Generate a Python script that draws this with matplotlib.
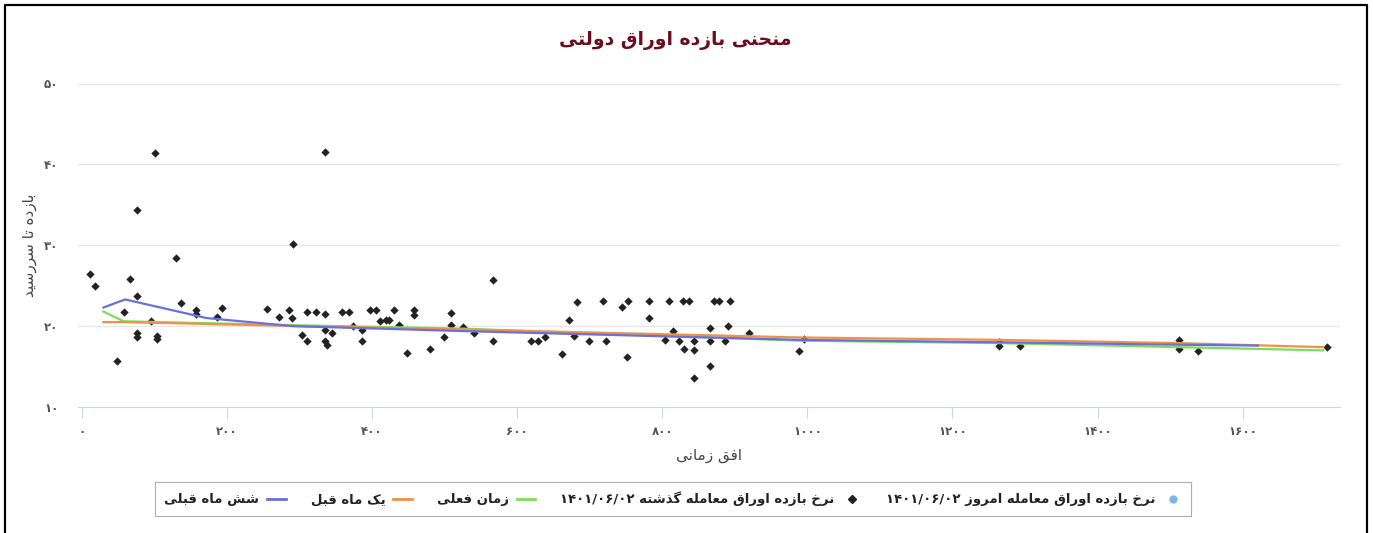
import re
import matplotlib
matplotlib.use("Agg")
import matplotlib.pyplot as plt
from matplotlib.lines import Line2D

# ---- simple Persian shaping (matplotlib has no RTL / joining support) ----
FORMS = {
    'ا': ('\uFE8D', '\uFE8E'), 'د': ('\uFEA9', '\uFEAA'), 'ذ': ('\uFEAB', '\uFEAC'),
    'ر': ('\uFEAD', '\uFEAE'), 'ز': ('\uFEAF', '\uFEB0'), 'و': ('\uFEED', '\uFEEE'),
    'ب': ('\uFE8F', '\uFE90', '\uFE91', '\uFE92'), 'ت': ('\uFE95', '\uFE96', '\uFE97', '\uFE98'),
    'ح': ('\uFEA1', '\uFEA2', '\uFEA3', '\uFEA4'), 'خ': ('\uFEA5', '\uFEA6', '\uFEA7', '\uFEA8'),
    'س': ('\uFEB1', '\uFEB2', '\uFEB3', '\uFEB4'), 'ش': ('\uFEB5', '\uFEB6', '\uFEB7', '\uFEB8'),
    'ع': ('\uFEC9', '\uFECA', '\uFECB', '\uFECC'), 'ف': ('\uFED1', '\uFED2', '\uFED3', '\uFED4'),
    'ق': ('\uFED5', '\uFED6', '\uFED7', '\uFED8'), 'ل': ('\uFEDD', '\uFEDE', '\uFEDF', '\uFEE0'),
    'م': ('\uFEE1', '\uFEE2', '\uFEE3', '\uFEE4'), 'ن': ('\uFEE5', '\uFEE6', '\uFEE7', '\uFEE8'),
    'ه': ('\uFEE9', '\uFEEA', '\uFEEB', '\uFEEC'), 'ی': ('\uFBFC', '\uFBFD', '\uFBFE', '\uFBFF'),
    'ک': ('\uFB8E', '\uFB8F', '\uFB90', '\uFB91'), 'گ': ('\uFB92', '\uFB93', '\uFB94', '\uFB95'),
}


def fa(text):
    out = []
    for i, c in enumerate(text):
        if c not in FORMS:
            out.append(c)
            continue
        prev = text[i - 1] if i > 0 else ''
        nxt = text[i + 1] if i + 1 < len(text) else ''
        joins_prev = prev in FORMS and len(FORMS[prev]) == 4
        joins_next = len(FORMS[c]) == 4 and nxt in FORMS
        f = FORMS[c]
        if joins_prev and joins_next:
            out.append(f[3])
        elif joins_prev:
            out.append(f[1])
        elif joins_next:
            out.append(f[2])
        else:
            out.append(f[0])
    s = ''.join(out)[::-1]
    return re.sub(r'[۰-۹0-9/]+', lambda m: m.group(0)[::-1], s)


def fanum(n):
    return str(n).translate(str.maketrans('0123456789', '۰۱۲۳۴۵۶۷۸۹'))


# ---- data ----
past_x = [11, 18, 49, 58, 67, 76, 76, 76, 76, 96, 101, 104, 104, 130, 137, 158, 158,
          186, 193, 255, 272, 286, 290, 291, 304, 311, 311, 323, 336, 336, 336, 336,
          338, 345, 359, 368, 374, 386, 386, 397, 405, 411, 419, 423, 430, 437, 448,
          458, 458, 480, 499, 509, 509, 526, 541, 567, 567, 619, 629, 638, 662, 672,
          679, 682, 699, 719, 722, 745, 751, 753, 782, 782, 804, 809, 815, 823, 829,
          830, 837, 844, 844, 844, 866, 866, 866, 871, 878, 886, 891, 893, 920, 988,
          996, 1264, 1264, 1293, 1512, 1512, 1539, 1716]
past_y = [26.5, 25.0, 15.7, 21.8, 25.8, 34.3, 23.7, 19.2, 18.6, 20.6, 41.4, 18.8, 18.4,
          28.4, 22.8, 22.0, 21.5, 21.1, 22.2, 22.1, 21.1, 22.0, 21.0, 30.2, 18.9, 21.8,
          18.1, 21.7, 41.5, 21.5, 19.5, 18.1, 17.7, 19.2, 21.7, 21.8, 20.0, 19.5, 18.1,
          22.0, 22.0, 20.6, 20.7, 20.7, 22.0, 20.1, 16.7, 22.0, 21.4, 17.2, 18.6, 21.6,
          20.2, 19.9, 19.1, 25.7, 18.1, 18.1, 18.1, 18.6, 16.5, 20.8, 18.8, 23.0, 18.1,
          23.1, 18.2, 22.4, 16.2, 23.1, 23.1, 21.0, 18.3, 23.1, 19.4, 18.2, 23.1, 17.2,
          23.1, 18.2, 17.1, 13.6, 19.8, 18.2, 15.1, 23.1, 23.1, 18.2, 20.0, 23.1, 19.1,
          16.9, 18.4, 18.0, 17.6, 17.5, 18.3, 17.2, 16.9, 17.4]

today_x = []
today_y = []

now_x = [30, 58, 300, 521, 990, 1264, 1512, 1711]
now_y = [21.8, 20.6, 20.1, 19.7, 18.2, 17.9, 17.4, 17.0]

month_x = [30, 58, 300, 521, 990, 1264, 1512, 1711]
month_y = [20.5, 20.5, 20.0, 19.6, 18.6, 18.3, 17.9, 17.4]

six_x = [30, 60, 172, 291, 521, 990, 1264, 1512, 1621]
six_y = [22.3, 23.3, 21.0, 20.0, 19.4, 18.3, 18.0, 17.7, 17.6]

x_ticks = [0, 200, 400, 600, 800, 1000, 1200, 1400, 1600]
y_ticks = [10, 20, 30, 40, 50]

title = 'منحنی بازده اوراق دولتی'
x_title = 'افق زمانی'
y_title = 'بازده تا سررسید'
names = ['نرخ بازده اوراق معامله امروز ۱۴۰۱/۰۶/۰۲',
         'نرخ بازده اوراق معامله گذشته ۱۴۰۱/۰۶/۰۲',
         'زمان فعلی', 'یک ماه قبل', 'شش ماه قبلی']
colors = ['#7cb5ec', '#222222', '#7ddc5c', '#f0914a', '#6b6fdc']

plt.rcParams['font.family'] = ['DejaVu Sans']

W, H = 1373, 533
fig = plt.figure(figsize=(W / 100, H / 100), dpi=100)
ax = fig.add_axes([78 / W, 1 - 407 / H, (1340 - 78) / W, (407 - 83.5) / H])

ax.scatter(today_x, today_y, marker='o', s=20, color=colors[0], zorder=2)
ax.scatter(past_x, past_y, marker='D', s=18, color=colors[1], linewidths=0, zorder=2)
ax.plot(now_x, now_y, color=colors[2], lw=1.6, zorder=3)
ax.plot(month_x, month_y, color=colors[3], lw=1.6, zorder=3)
ax.plot(six_x, six_y, color=colors[4], lw=1.6, zorder=3)

ax.set_xlim(-5, 1734)
ax.set_ylim(10, 50)
ax.set_xticks(x_ticks)
ax.set_xticklabels([fanum(t) for t in x_ticks])
ax.set_yticks(y_ticks)
ax.set_yticklabels([fanum(t) for t in y_ticks])
ax.grid(axis='y', color='#e6e6e6', lw=1)
ax.set_axisbelow(True)
for side in ['top', 'right', 'left']:
    ax.spines[side].set_visible(False)
ax.spines['bottom'].set_color('#ccd6eb')
ax.tick_params(axis='x', length=8, color='#ccd6eb', pad=5, labelsize=8.5, labelcolor='#555555')
ax.tick_params(axis='y', length=0, pad=14, labelsize=8.5, labelcolor='#555555')
for lab in ax.get_xticklabels() + ax.get_yticklabels():
    lab.set_fontweight('bold')

ax.set_xlabel(fa(x_title), fontsize=11, color='#444444', labelpad=7)
ax.set_ylabel(fa(y_title), fontsize=11, color='#444444', labelpad=5)
fig.text(675 / W, 1 - 40 / H, fa(title), ha='center', va='center',
         fontsize=13.5, fontweight='bold', color='#6b0d1e')

handles = [
    Line2D([], [], color=colors[4], lw=2),
    Line2D([], [], color=colors[3], lw=2),
    Line2D([], [], color=colors[2], lw=2),
    Line2D([], [], marker='D', ls='none', ms=4, color=colors[1]),
    Line2D([], [], marker='o', ls='none', ms=5, color=colors[0]),
]
labels = [fa(n) for n in names[::-1]]
leg = fig.legend(handles, labels, loc='center', bbox_to_anchor=(673 / W, 1 - 499 / H),
                 ncol=5, markerfirst=False, frameon=True, fancybox=False,
                 prop={'size': 9.5, 'weight': 'bold'}, handlelength=1.4,
                 columnspacing=1.9, handletextpad=0.6, borderpad=0.7)
leg.get_frame().set_edgecolor('#999999')
leg.get_frame().set_linewidth(0.8)
for t in leg.get_texts():
    t.set_color('#222222')

# outer black frame
fig.add_artist(Line2D([5 / W, 5 / W, 1367 / W, 1367 / W], [0, 1 - 5 / H, 1 - 5 / H, 0],
                      color='black', lw=1.6, transform=fig.transFigure))

fig.savefig('out.png', dpi=100)
